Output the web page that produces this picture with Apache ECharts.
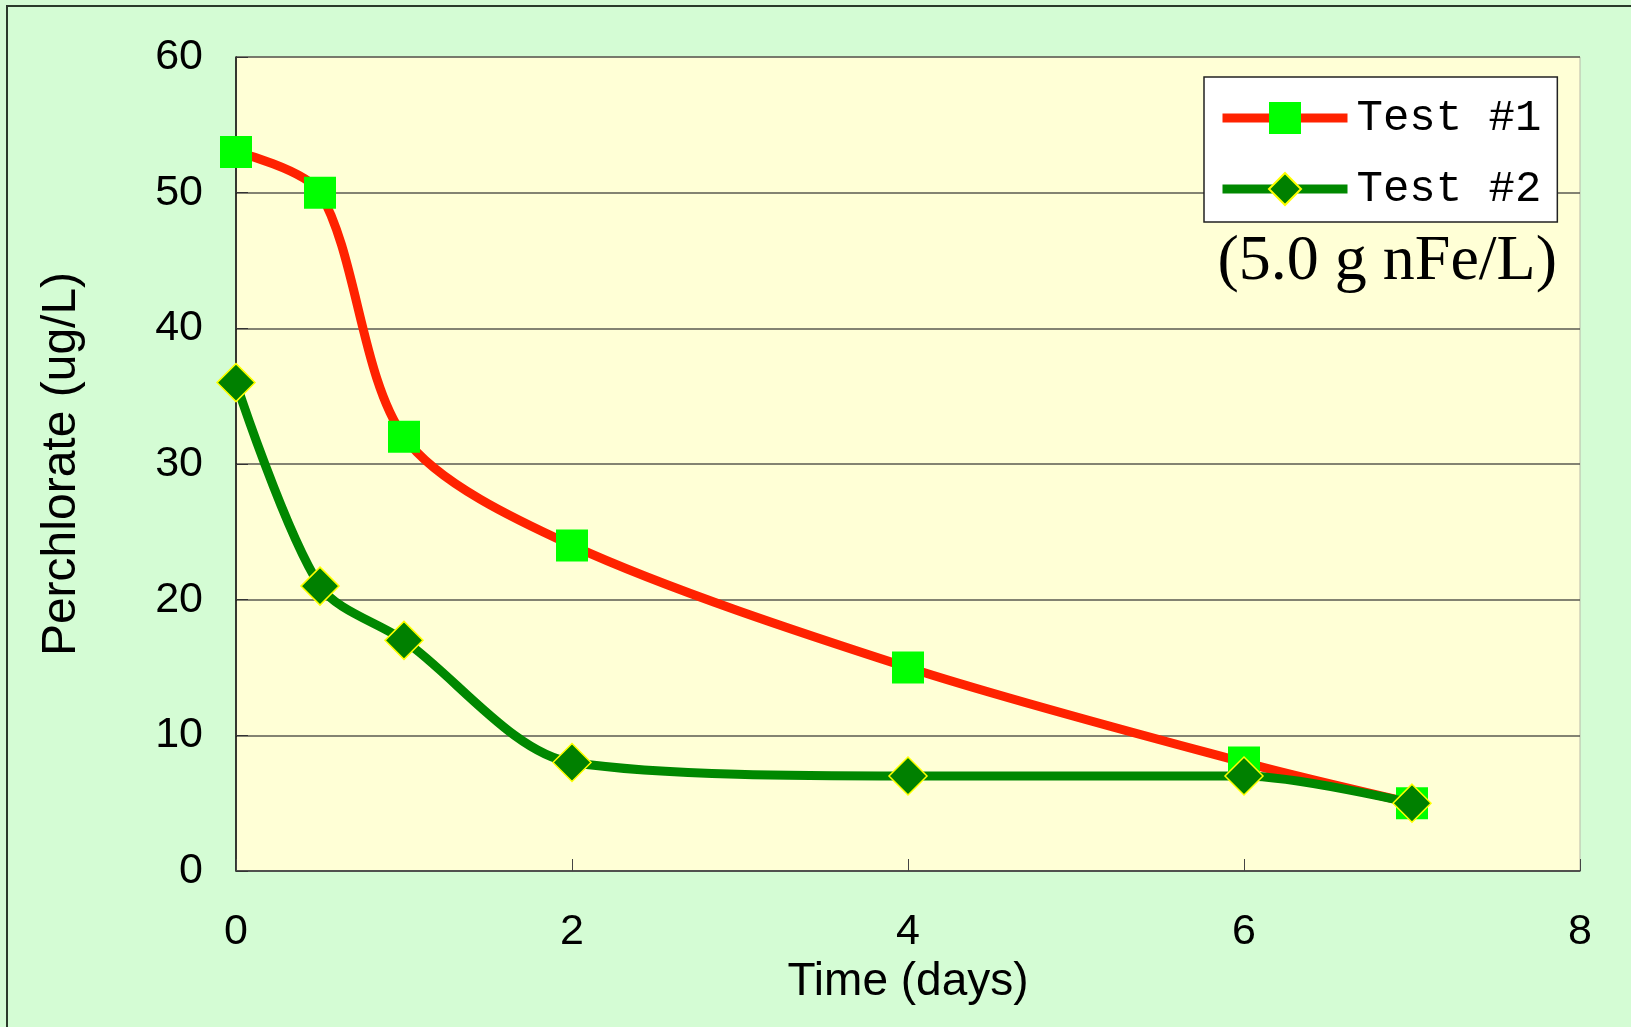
<!DOCTYPE html>
<html>
<head>
<meta charset="utf-8">
<script src="https://cdn.jsdelivr.net/npm/echarts@6/dist/echarts.min.js"></script>
<style>
html,body{margin:0;padding:0;background:#D4FCD4;}
#c{width:1631px;height:1027px;}
</style>
</head>
<body>
<div id="c"></div>
<script>
// Data
const days = [0, 0.5, 1, 2, 4, 6, 7];
const test1 = [53, 50, 32, 24, 15, 8, 5];
const test2 = [36, 21, 17, 8, 7, 7, 5];
const yTicks = [0, 10, 20, 30, 40, 50, 60];
const xTicks = [0, 2, 4, 6, 8];
const seriesNames = ['Test #1', 'Test #2'];
const subtitle = '(5.0 g nFe/L)';

const chart = echarts.init(document.getElementById('c'), null, {renderer: 'canvas'});
const pair = (xs, ys) => xs.map((x, i) => [x, ys[i]]);

chart.setOption({
  backgroundColor: '#D4FCD4',
  animation: false,
  graphic: [{
    type: 'rect', z: -1,
    shape: {x: 7, y: 6, width: 1700, height: 1100},
    style: {fill: 'none', stroke: '#2a3a2a', lineWidth: 2}
  }],
  title: {
    text: subtitle,
    right: 74, top: 230, padding: 0,
    textStyle: {fontFamily: 'Liberation Serif', fontSize: 64, fontWeight: 'normal', color: '#000'}
  },
  grid: {
    left: 236, top: 57, right: 51, bottom: 156,
    show: true, backgroundColor: '#FFFFD6', borderColor: '#b8b8a8', borderWidth: 1
  },
  legend: {
    orient: 'vertical',
    left: 1204, top: 77,
    data: seriesNames,
    backgroundColor: '#ffffff',
    borderColor: '#222', borderWidth: 1.5,
    padding: [13, 16, 5, 14],
    itemWidth: 125, itemHeight: 40, itemGap: 15,
    lineStyle: {width: 9},
    textStyle: {fontFamily: 'Liberation Mono', fontSize: 44, color: '#000', lineHeight: 52, padding: [4, 0, 0, 4]}
  },
  xAxis: {
    type: 'value', min: xTicks[0], max: xTicks[xTicks.length - 1], interval: 2,
    name: 'Time (days)', nameLocation: 'middle', nameGap: 88,
    nameTextStyle: {fontFamily: 'Liberation Sans', fontSize: 46, color: '#000'},
    axisLine: {lineStyle: {color: '#444', width: 1.5}},
    axisTick: {inside: true, length: 12, lineStyle: {color: '#444'}},
    axisLabel: {margin: 40, fontFamily: 'Liberation Sans', fontSize: 43, color: '#000'},
    splitLine: {show: false}
  },
  yAxis: {
    type: 'value', min: yTicks[0], max: yTicks[yTicks.length - 1], interval: 10,
    name: 'Perchlorate (ug/L)', nameLocation: 'middle', nameGap: 150,
    nameTextStyle: {fontFamily: 'Liberation Sans', fontSize: 48, color: '#000'},
    axisLine: {show: true, lineStyle: {color: '#000', width: 1.5}},
    axisTick: {show: true, inside: true, length: 12, lineStyle: {color: '#333'}},
    axisLabel: {margin: 33, fontFamily: 'Liberation Sans', fontSize: 43, color: '#000'},
    splitLine: {show: true, lineStyle: {color: '#5a5a50', width: 1.5}}
  },
  series: [{
    name: seriesNames[0], type: 'line', smooth: 0.3,
    data: pair(days, test1),
    symbol: 'rect', symbolSize: 32,
    itemStyle: {color: '#00FF00', borderWidth: 0},
    lineStyle: {color: '#FF2200', width: 9},
    z: 2
  }, {
    name: seriesNames[1], type: 'line', smooth: 0.3,
    data: pair(days, test2),
    symbol: 'diamond', symbolSize: 38,
    itemStyle: {color: '#008000', borderColor: '#FFFF00', borderWidth: 1.5},
    lineStyle: {color: '#008800', width: 9},
    z: 3
  }]
});
</script>
</body>
</html>
